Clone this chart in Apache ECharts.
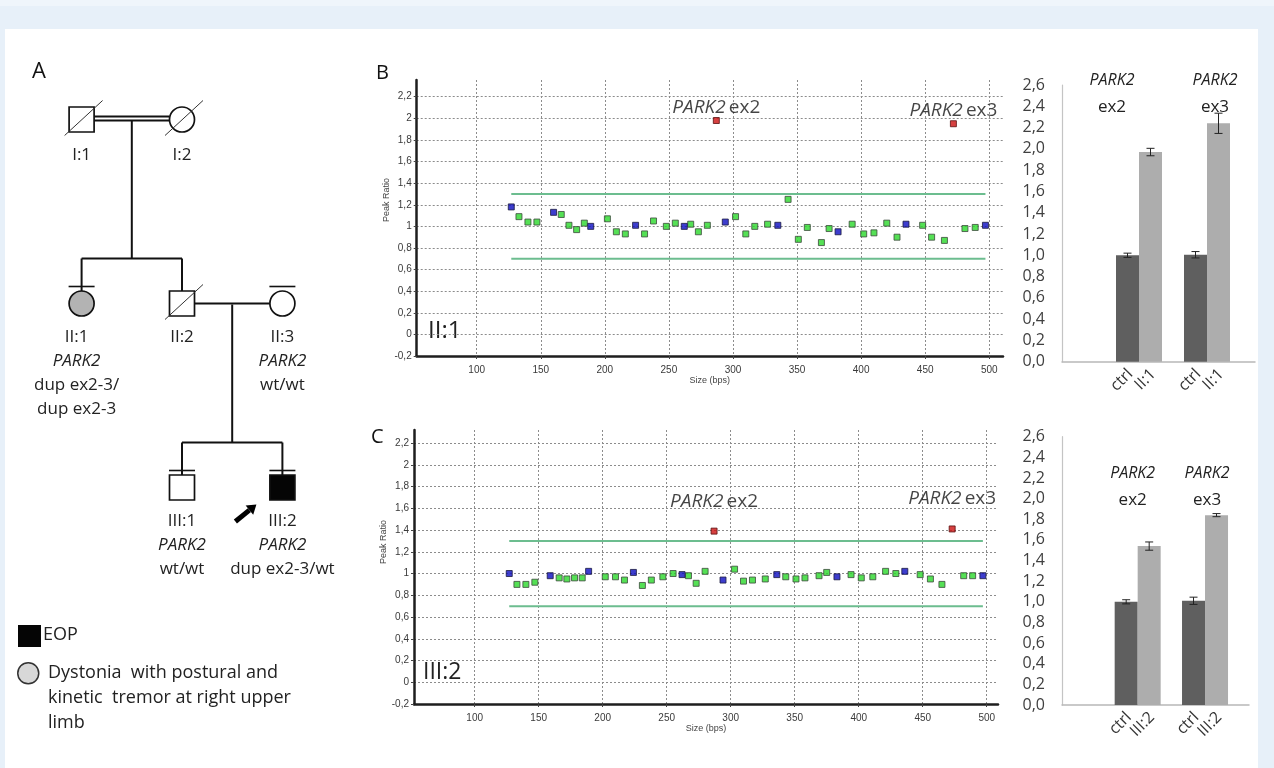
<!DOCTYPE html>
<html>
<head>
<meta charset="utf-8">
<script src="https://cdn.jsdelivr.net/npm/echarts@6/dist/echarts.min.js"></script>
<style>
html,body{margin:0;padding:0;width:1274px;height:768px;overflow:hidden;background:#e7f0f9;}
#stripe{position:absolute;left:0;top:0;width:1274px;height:6px;background:#eff5fb;}
#panel{position:absolute;left:5px;top:29px;width:1253px;height:739px;background:#ffffff;}
#chart{position:absolute;left:0;top:0;width:1274px;height:768px;}
</style>
</head>
<body>
<div id="stripe"></div>
<div id="panel"></div>
<div id="chart"></div>
<script>
// ---------------- DATA ----------------
// Pedigree (panel A)
const PED_ID       = ['I:1', 'I:2', 'II:1', 'II:2', 'II:3', 'III:1', 'III:2'];
const PED_SEX      = ['M', 'F', 'F', 'M', 'F', 'M', 'M'];
const PED_GEN      = [1, 1, 2, 2, 2, 3, 3];
const PED_SLOT     = [1, 5, 1, 5, 9, 5, 9];
const PED_DECEASED = [true, true, false, true, false, false, false];
const PED_EXAMINED = [false, false, true, false, true, true, true];
const PED_STATUS   = ['', '', 'dystonia', '', '', '', 'EOP'];
const PED_GENOTYPE = ['', '', 'dup ex2-3/\ndup ex2-3', '', 'wt/wt', 'wt/wt', 'dup ex2-3/wt'];
const PED_GENE     = 'PARK2';
const PROBAND      = 'III:2';
const COUPLES      = [['I:1', 'I:2', true], ['II:2', 'II:3', false]];
const OFFSPRING    = [['II:1', 'II:2'], ['III:1', 'III:2']];
const LEGEND_EOP   = 'EOP';
const LEGEND_DYST  = 'Dystonia  with postural and\nkinetic  tremor at right upper\nlimb';

// MLPA peak ratios (panels B and C): [size in bps, peak ratio]
const SIZE_TICKS = [100, 150, 200, 250, 300, 350, 400, 450, 500];
const PEAK_TICKS = [-0.2, 0, 0.2, 0.4, 0.6, 0.8, 1, 1.2, 1.4, 1.6, 1.8, 2, 2.2];
const THRESH_SPAN  = [127, 497];
const THRESH_UPPER = 1.3;
const THRESH_LOWER = 0.7;
const EXON_LABELS  = ['ex2', 'ex3'];

const B_REF = [[127,1.18],[160,1.13],[189,1.00],[224,1.01],[262,1.00],[294,1.04],[335,1.01],[382,0.95],[435,1.02],[497,1.01]];
const B_TEST = [[133,1.09],[140,1.04],[147,1.04],[166,1.11],[172,1.01],[178,0.97],[184,1.03],[202,1.07],[209,0.95],[216,0.93],
  [231,0.93],[238,1.05],[248,1.00],[255,1.03],[267,1.02],[273,0.95],[280,1.01],[302,1.09],[310,0.93],[317,1.00],[327,1.02],
  [343,1.25],[351,0.88],[358,0.99],[369,0.85],[375,0.98],[393,1.02],[402,0.93],[410,0.94],[420,1.03],[428,0.90],[448,1.01],
  [455,0.90],[465,0.87],[481,0.98],[489,0.99]];
const B_DUP = [[287,1.98],[472,1.95]];

const C_REF = [[127,1.00],[159,0.98],[189,1.02],[224,1.01],[262,0.99],[294,0.94],[336,0.99],[383,0.97],[436,1.02],[497,0.98]];
const C_TEST = [[133,0.90],[140,0.90],[147,0.92],[166,0.96],[172,0.95],[178,0.96],[184,0.96],[202,0.97],[210,0.97],[217,0.94],
  [231,0.89],[238,0.94],[247,0.97],[255,1.00],[267,0.98],[273,0.91],[280,1.02],[303,1.04],[310,0.93],[317,0.94],[327,0.95],
  [343,0.97],[351,0.95],[358,0.96],[369,0.98],[375,1.01],[394,0.99],[402,0.96],[411,0.97],[421,1.02],[429,1.00],[448,0.99],
  [456,0.95],[465,0.90],[482,0.98],[489,0.98]];
const C_DUP = [[287,1.39],[473,1.41]];

// qPCR relative quantity (bar charts)
const QPCR_EXONS   = ['ex2', 'ex3'];
const TOP_PATIENT  = 'II:1';
const TOP_CTRL     = [1.00, 1.005];
const TOP_CTRL_ERR = [0.02, 0.03];
const TOP_PAT      = [1.97, 2.24];
const TOP_PAT_ERR  = [0.035, 0.095];
const BOT_PATIENT  = 'III:2';
const BOT_CTRL     = [1.00, 1.01];
const BOT_CTRL_ERR = [0.02, 0.035];
const BOT_PAT      = [1.54, 1.84];
const BOT_PAT_ERR  = [0.04, 0.015];

// ---------------- HELPERS ----------------
const FONT = 'Open Sans';
const idx = id => PED_ID.indexOf(id);
const comma = v => {
  const r = Math.round(v * 10) / 10;
  return String(r).replace('.', ',');
};
const comma1 = v => v.toFixed(1).replace('.', ',');

function renderPerson(params, api) {
  const i = params.dataIndex;
  const pt = api.coord([api.value(0), api.value(1)]);
  const cx = pt[0], cy = pt[1];
  const S = 25, h = S / 2;
  const fill = PED_STATUS[i] === 'EOP' ? '#050505' : (PED_STATUS[i] === 'dystonia' ? '#b3b3b3' : '#ffffff');
  const ch = [];
  if (PED_SEX[i] === 'M') {
    ch.push({type: 'rect', shape: {x: cx - h, y: cy - h, width: S, height: S}, style: {fill: fill, stroke: '#111', lineWidth: 1.7}});
  } else {
    ch.push({type: 'circle', shape: {cx: cx, cy: cy, r: h}, style: {fill: fill, stroke: '#111', lineWidth: 1.7}});
  }
  if (PED_DECEASED[i]) {
    ch.push({type: 'line', shape: {x1: cx - 17, y1: cy + 16, x2: cx + 21, y2: cy - 19}, style: {stroke: '#333', lineWidth: 1}});
  }
  if (PED_EXAMINED[i]) {
    ch.push({type: 'line', shape: {x1: cx - 13, y1: cy - 17, x2: cx + 13, y2: cy - 17}, style: {stroke: '#111', lineWidth: 1.6}});
  }
  let txt = '{n|' + PED_ID[i] + '}';
  if (PED_GENOTYPE[i]) {
    txt += '\n{g|' + PED_GENE + '}';
    PED_GENOTYPE[i].split('\n').forEach(s => { txt += '\n{n|' + s + '}'; });
  }
  const shift = PED_GENOTYPE[i].indexOf('\n') >= 0 ? -5 : 0;
  ch.push({type: 'text', style: {
    text: txt, x: cx + shift, y: cy + (PED_GEN[i] === 1 ? 24 : 22), align: 'center', verticalAlign: 'top',
    rich: {
      n: {fontFamily: FONT, fontSize: 17, lineHeight: 24, fill: '#222'},
      g: {fontFamily: FONT, fontSize: 17, lineHeight: 24, fontStyle: 'italic', fill: '#222'}
    }
  }});
  if (PED_ID[i] === PROBAND) {
    const tip = [cx - 26, cy + 17];
    const start = [cx - 47, cy + 34];
    const dx = tip[0] - start[0], dy = tip[1] - start[1];
    const L = Math.sqrt(dx * dx + dy * dy);
    const ux = dx / L, uy = dy / L, nx = -uy, ny = ux;
    const base = [tip[0] - 9 * ux, tip[1] - 9 * uy];
    ch.push({type: 'line', shape: {x1: start[0], y1: start[1], x2: base[0], y2: base[1]}, style: {stroke: '#000', lineWidth: 5}});
    ch.push({type: 'polygon', shape: {points: [tip, [base[0] + 6 * nx, base[1] + 6 * ny], [base[0] - 6 * nx, base[1] - 6 * ny]]}, style: {fill: '#000'}});
  }
  return {type: 'group', children: ch};
}

function renderFamily(params, api) {
  const k = params.dataIndex;
  const a = idx(COUPLES[k][0]), b = idx(COUPLES[k][1]);
  const pa = api.coord([PED_SLOT[a], PED_GEN[a]]);
  const pb = api.coord([PED_SLOT[b], PED_GEN[b]]);
  const h = 12.5;
  const ch = [];
  const st = {stroke: '#111', lineWidth: 2};
  if (COUPLES[k][2]) {
    ch.push({type: 'line', shape: {x1: pa[0] + h, y1: pa[1] - 3, x2: pb[0] - h, y2: pb[1] - 3}, style: st});
    ch.push({type: 'line', shape: {x1: pa[0] + h, y1: pa[1] + 1, x2: pb[0] - h, y2: pb[1] + 1}, style: st});
  } else {
    ch.push({type: 'line', shape: {x1: pa[0] + h, y1: pa[1], x2: pb[0] - h, y2: pb[1]}, style: st});
  }
  const kids = OFFSPRING[k].map(idx);
  const kpts = kids.map(j => api.coord([PED_SLOT[j], PED_GEN[j]]));
  const midX = (pa[0] + pb[0]) / 2;
  const sibY = kpts[0][1] - 45;
  ch.push({type: 'line', shape: {x1: midX, y1: pa[1] + 1, x2: midX, y2: sibY}, style: st});
  const xs = kpts.map(p => p[0]);
  ch.push({type: 'line', shape: {x1: Math.min.apply(null, xs), y1: sibY, x2: Math.max.apply(null, xs), y2: sibY}, style: st});
  kpts.forEach(p => {
    ch.push({type: 'line', shape: {x1: p[0], y1: sibY, x2: p[0], y2: p[1] - h}, style: st});
  });
  return {type: 'group', children: ch};
}

function scatterX(grid, min, max, nameGap) {
  return {
    type: 'value', gridIndex: grid, min: min, max: max,
    axisLine: {show: true, onZero: false, lineStyle: {color: '#1e1e1e', width: 2.5}},
    axisTick: {show: true, customValues: SIZE_TICKS, length: 3, lineStyle: {color: '#444'}},
    axisLabel: {customValues: SIZE_TICKS, color: '#3a3a3a', fontSize: 10, fontFamily: 'Liberation Sans', margin: 9},
    splitLine: {show: true, lineStyle: {color: '#8c8c8c', type: [2, 2], width: 1}},
    name: 'Size (bps)', nameLocation: 'middle', nameGap: nameGap,
    nameTextStyle: {fontSize: 9, color: '#444', fontFamily: 'Liberation Sans'}
  };
}
function scatterY(grid, max, namePad) {
  return {
    type: 'value', gridIndex: grid, min: -0.2, max: max,
    axisLine: {show: true, onZero: false, lineStyle: {color: '#1e1e1e', width: 2.5}},
    axisTick: {show: true, customValues: PEAK_TICKS, length: 3, lineStyle: {color: '#444'}},
    axisLabel: {customValues: PEAK_TICKS, color: '#3a3a3a', fontSize: 10, fontFamily: 'Liberation Sans', margin: 5, formatter: comma},
    splitLine: {show: true, lineStyle: {color: '#8c8c8c', type: [2, 2], width: 1}},
    name: 'Peak Ratio', nameLocation: 'middle', nameGap: 24, nameRotate: 90,
    nameTextStyle: {fontSize: 9, color: '#444', fontFamily: 'Liberation Sans', padding: [0, 0, 0, namePad]}
  };
}
function mlpaSeries(ax, ref, test, dup, labelDist) {
  const base = {type: 'scatter', xAxisIndex: ax, yAxisIndex: ax, symbol: 'rect', symbolSize: 6, z: 5};
  const line = v => ({type: 'line', xAxisIndex: ax, yAxisIndex: ax, data: THRESH_SPAN.map(x => [x, v]), symbol: 'none',
    lineStyle: {color: '#6cbd8f', width: 2}, z: 3, silent: true});
  return [
    line(THRESH_UPPER), line(THRESH_LOWER),
    Object.assign({}, base, {data: test, itemStyle: {color: '#2bd82b', borderColor: '#3c4a3c', borderWidth: 1}}),
    Object.assign({}, base, {data: ref, itemStyle: {color: '#0c0cc0', borderColor: '#1a1a40', borderWidth: 1}}),
    Object.assign({}, base, {
      data: dup.map((p, i) => ({value: p, name: EXON_LABELS[i]})),
      itemStyle: {color: '#cc1010', borderColor: '#5a1010', borderWidth: 1},
      label: {show: true, position: 'top', distance: labelDist,
        formatter: p => '{i|' + PED_GENE + '} {n|' + p.name + '}',
        rich: {i: {fontFamily: FONT, fontSize: 19, fontStyle: 'italic', color: '#151515'},
               n: {fontFamily: FONT, fontSize: 19, color: '#151515'}}}
    })
  ];
}

function barFrame(grid) {
  return {
    x: {type: 'value', gridIndex: grid, min: 0, max: 1, axisLine: {show: true, lineStyle: {color: '#b8b8b8', width: 1.5}},
        axisTick: {show: false}, axisLabel: {show: false}, splitLine: {show: false}},
    y: {type: 'value', gridIndex: grid, min: 0, max: 2.6, interval: 0.2,
        axisLine: {show: true, lineStyle: {color: '#c4c4c4', width: 1.2}}, axisTick: {show: false}, splitLine: {show: false},
        axisLabel: {formatter: comma1, fontSize: 16, color: '#404040', fontFamily: FONT, margin: 17}}
  };
}
// horizontal nudges of the exon headers above each bar pair
function barAxes(grid, headerOffset, nudges) {
  const rich = {};
  nudges.forEach((d, k) => {
    const pad = d < 0 ? [0, -2 * d, 0, 0] : [0, 0, 0, 2 * d];
    rich['i' + k] = {fontFamily: FONT, fontSize: 16, fontStyle: 'italic', lineHeight: 27, color: '#222', padding: pad};
    rich['n' + k] = {fontFamily: FONT, fontSize: 17, lineHeight: 27, color: '#222', padding: pad};
  });
  return {
    x: [
      {type: 'category', gridIndex: grid, data: QPCR_EXONS, axisLine: {show: false}, axisTick: {show: false}, axisLabel: {show: false}},
      {type: 'category', gridIndex: grid, data: QPCR_EXONS, position: 'top', offset: headerOffset,
       axisLine: {show: false}, axisTick: {show: false},
       axisLabel: {margin: 0, interval: 0, hideOverlap: false,
         formatter: (v, k) => '{i' + k + '|' + PED_GENE + '}\n{n' + k + '|' + v + '}',
         rich: rich}}
    ],
    y: {type: 'value', gridIndex: grid, min: 0, max: 2.6, show: false}
  };
}
function barSeries(xAx, yAx, ctrl, ctrlErr, pat, patErr, patName) {
  const lbl = {show: true, formatter: '{a}', position: ['50%', '100%'], rotate: 45, align: 'right', verticalAlign: 'middle',
    offset: [-5, 9], fontFamily: FONT, fontSize: 16, color: '#333'};
  const err = (vals, errs, dx) => ({
    type: 'custom', xAxisIndex: xAx, yAxisIndex: yAx, z: 10, silent: true,
    data: vals.map((v, i) => [i, v, errs[i]]),
    renderItem: (p, api) => {
      const c = api.value(0), v = api.value(1), e = api.value(2);
      const t = api.coord([c, v + e]), b = api.coord([c, v - e]);
      const x = t[0] + dx;
      const s = {stroke: '#222', lineWidth: 1};
      return {type: 'group', children: [
        {type: 'line', shape: {x1: x, y1: t[1], x2: x, y2: b[1]}, style: s},
        {type: 'line', shape: {x1: x - 4, y1: t[1], x2: x + 4, y2: t[1]}, style: s},
        {type: 'line', shape: {x1: x - 4, y1: b[1], x2: x + 4, y2: b[1]}, style: s}
      ]};
    }
  });
  return [
    {type: 'bar', name: 'ctrl', xAxisIndex: xAx, yAxisIndex: yAx, data: ctrl, barWidth: 23, barGap: '0%',
     itemStyle: {color: '#5f5f5f'}, label: lbl},
    {type: 'bar', name: patName, xAxisIndex: xAx, yAxisIndex: yAx, data: pat, barWidth: 23, barGap: '0%',
     itemStyle: {color: '#adadad'}, label: lbl},
    err(ctrl, ctrlErr, -11.5),
    err(pat, patErr, 11.5)
  ];
}

// ---------------- CHART ----------------
const chart = echarts.init(document.getElementById('chart'), null, {renderer: 'canvas'});
const fTop = barFrame(3), fBot = barFrame(5);
const aTop = barAxes(4, -35.5, [-27, 8]), aBot = barAxes(6, -77, [-5, 2]);

const option = {
  animation: false,
  backgroundColor: 'transparent',
  textStyle: {fontFamily: FONT},
  grid: [
    {left: 56.5, top: 27.5, width: 301.2, height: 552, outerBoundsMode: 'none'},        // 0 pedigree
    {left: 416.7, top: 80, width: 586.3, height: 276, outerBoundsMode: 'none'},         // 1 MLPA II:1
    {left: 414, top: 430, width: 584, height: 274, outerBoundsMode: 'none'},            // 2 MLPA III:2
    {left: 1062, top: 85, width: 193, height: 276.7, outerBoundsMode: 'none'},          // 3 frame top
    {left: 1105, top: 85, width: 136, height: 276.7, outerBoundsMode: 'none'},          // 4 bars top
    {left: 1062, top: 436.7, width: 187, height: 268.3, outerBoundsMode: 'none'},       // 5 frame bottom
    {left: 1104, top: 436.7, width: 134.7, height: 268.3, outerBoundsMode: 'none'}      // 6 bars bottom
  ],
  xAxis: [
    {type: 'value', gridIndex: 0, min: 0, max: 12, show: false},
    scatterX(1, 53.2, 510.7, 17.5),
    scatterX(2, 52.6, 508.8, 18.5),
    fTop.x, aTop.x[0], aTop.x[1],
    fBot.x, aBot.x[0], aBot.x[1]
  ],
  yAxis: [
    {type: 'value', gridIndex: 0, min: 0.5, max: 3.5, inverse: true, show: false},
    scatterY(1, 2.355, 36),
    scatterY(2, 2.32, 50),
    fTop.y, aTop.y, fBot.y, aBot.y
  ],
  series: [
    {type: 'custom', xAxisIndex: 0, yAxisIndex: 0, data: COUPLES.map((c, k) => [k, 1]), renderItem: renderFamily, silent: true, z: 1},
    {type: 'custom', xAxisIndex: 0, yAxisIndex: 0, data: PED_ID.map((id, i) => [PED_SLOT[i], PED_GEN[i]]),
     encode: {x: 0, y: 1}, renderItem: renderPerson, silent: true, z: 2}
  ]
    .concat(mlpaSeries(1, B_REF, B_TEST, B_DUP, 0))
    .concat(mlpaSeries(2, C_REF, C_TEST, C_DUP, 17))
    .concat(barSeries(4, 4, TOP_CTRL, TOP_CTRL_ERR, TOP_PAT, TOP_PAT_ERR, TOP_PATIENT))
    .concat(barSeries(7, 6, BOT_CTRL, BOT_CTRL_ERR, BOT_PAT, BOT_PAT_ERR, BOT_PATIENT)),
  graphic: [
    {type: 'text', left: 32, top: 61, style: {text: 'A', fontFamily: FONT, fontSize: 22, fill: '#111'}},
    {type: 'text', left: 376, top: 63, style: {text: 'B', fontFamily: FONT, fontSize: 20, fill: '#111'}},
    {type: 'text', left: 371, top: 427, style: {text: 'C', fontFamily: FONT, fontSize: 20, fill: '#111'}},
    {type: 'text', left: 428, top: 319, style: {text: TOP_PATIENT, fontFamily: FONT, fontSize: 24, fill: '#222'}},
    {type: 'text', left: 423, top: 661, style: {text: BOT_PATIENT, fontFamily: FONT, fontSize: 23, fill: '#222'}},
    {type: 'rect', left: 18, top: 625, shape: {width: 23, height: 22}, style: {fill: '#050505'}},
    {type: 'text', left: 43, top: 626, style: {text: LEGEND_EOP, fontFamily: FONT, fontSize: 18, fill: '#222'}},
    {type: 'circle', left: 17, top: 662, shape: {r: 10.5}, style: {fill: '#d8d8d8', stroke: '#333', lineWidth: 1.5}},
    {type: 'text', left: 48, top: 660, style: {text: LEGEND_DYST, fontFamily: FONT, fontSize: 18, lineHeight: 25, fill: '#222'}}
  ]
};
chart.setOption(option);
</script>
</body>
</html>
